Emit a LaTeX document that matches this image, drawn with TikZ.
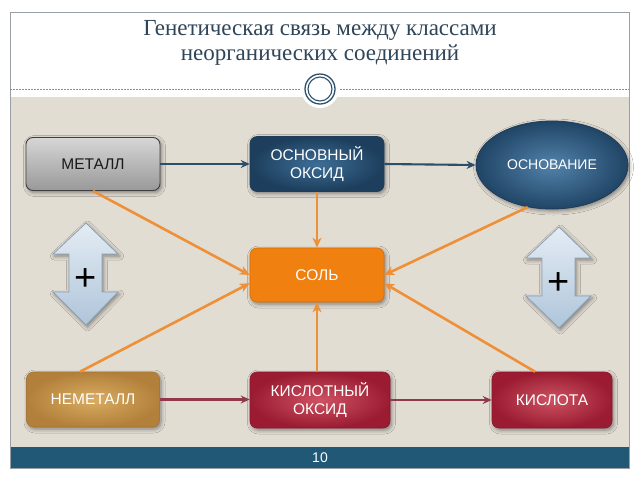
\documentclass[tikz,border=0pt]{standalone}
\usepackage{fontspec}
\setmainfont{Liberation Serif}
\newfontfamily\sansf{Liberation Sans}
\usetikzlibrary{arrows.meta,shadows.blur,shapes.geometric}
\definecolor{beige}{HTML}{E2DDD3}
\definecolor{barblue}{HTML}{215876}
\definecolor{framegrey}{HTML}{9A9FA3}
\definecolor{titlecol}{HTML}{2F4558}
\definecolor{ringblue}{HTML}{2E526E}
\definecolor{conblue}{HTML}{2B4E6A}
\definecolor{conred}{HTML}{8E3A4C}
\definecolor{conorange}{HTML}{EE9038}
\definecolor{arrowtop}{HTML}{E4ECF4}
\definecolor{arrowbot}{HTML}{AFC5DA}
\definecolor{arrowline}{HTML}{8CA2B8}
\definecolor{blueIn}{HTML}{3D6E96}
\definecolor{blueOut}{HTML}{1D3E5C}
\definecolor{blueDraw}{HTML}{1F3D57}
\definecolor{ellIn}{HTML}{5282AA}
\definecolor{ellOut}{HTML}{204566}
\definecolor{orangeFill}{HTML}{F08010}
\definecolor{orangeDraw}{HTML}{D76E0A}
\definecolor{goldIn}{HTML}{DAAC62}
\definecolor{goldOut}{HTML}{B2803A}
\definecolor{goldDraw}{HTML}{A57837}
\definecolor{redIn}{HTML}{CD5262}
\definecolor{redOut}{HTML}{9B1C32}
\definecolor{redDraw}{HTML}{8C192D}
\tikzset{
  shad/.style={blur shadow={shadow xshift=1.5pt,shadow yshift=-2pt,shadow blur radius=4pt,shadow opacity=45}},
  boxbase/.style={shad,rounded corners=7pt,align=center,text=white,
    font=\sansf\fontsize{15.5}{18}\selectfont,inner sep=2pt},
  greybox/.style={boxbase,draw=black!75,line width=0.9pt,text=black!90,
    top color=black!16,middle color=black!4,bottom color=black!40},
  bluebox/.style={boxbase,draw=blueDraw,line width=0.6pt,inner color=blueIn,outer color=blueOut},
  orangebox/.style={boxbase,fill=orangeFill,draw=orangeDraw,line width=0.6pt},
  goldbox/.style={boxbase,draw=goldDraw,line width=0.6pt,inner color=goldIn,outer color=goldOut},
  redbox/.style={boxbase,draw=redDraw,line width=0.6pt,inner color=redIn,outer color=redOut},
  ellbox/.style={shad,ellipse,draw=blueDraw,line width=0.8pt,text=white,
    font=\sansf\fontsize{14}{16}\selectfont,inner sep=0pt,inner color=ellIn,outer color=ellOut},
  blueline/.style={conblue,line width=2.1pt,-{Stealth[length=9pt,width=8pt,inset=3pt]}},
  redline/.style={conred,line width=2.1pt,-{Stealth[length=9pt,width=8pt,inset=3pt]}},
  orangeline/.style={conorange,line width=2.6pt,-{Stealth[length=10pt,width=9pt,inset=3pt]}},
  dblarrow/.style={draw=arrowline,line width=0.8pt,top color=arrowtop,bottom color=arrowbot,shad},
  plus/.style={font=\sansf\fontsize{38}{38}\selectfont,text=black}
}
\begin{document}
\begin{tikzpicture}[x=1pt,y=-1pt]
\useasboundingbox (0,0) rectangle (640,480);
\fill[white] (0,0) rectangle (640,480);
% slide frame
\fill[beige] (10,97) rectangle (629,447);
\fill[barblue] (10,447) rectangle (629,468);
\draw[framegrey,line width=0.8pt] (10,12) rectangle (629,468);
\draw[black!45,dash pattern=on 1.5pt off 1.5pt,line width=0.5pt] (10,89) -- (629,89);
\fill[white] (320,89) circle[radius=19pt];
\draw[ringblue,line width=1.3pt] (320,89) circle[radius=15pt];
\draw[ringblue,line width=1.1pt] (320,89) circle[radius=12pt];
% title
\node[titlecol,align=center,font=\fontsize{23}{25}\selectfont] (title) at (320,43)
  {Генетическая связь между классами\\неорганических соединений};
\node[white,font=\sansf\fontsize{14}{16}\selectfont] (pagenum) at (320,457.5) {10};
% double arrows
\path[dblarrow] (86,223) -- (118,254) -- (102,254) -- (102,292) -- (118,292) -- (86,325)
  -- (53,292) -- (69,292) -- (69,254) -- (53,254) -- cycle;
\path[dblarrow] (559,227) -- (591,258) -- (575,258) -- (575,296) -- (591,296) -- (559,328)
  -- (526,296) -- (542,296) -- (542,258) -- (526,258) -- cycle;
\node[plus] (plusL) at (86,280) {+};
\node[plus] (plusR) at (559,284) {+};
% nodes
\node[greybox,minimum width=134pt,minimum height=53pt] (metall) at (93,164) {МЕТАЛЛ};
\node[bluebox,minimum width=134pt,minimum height=55pt] (osnoks) at (317,164) {ОСНОВНЫЙ\\ОКСИД};
\node[ellbox,minimum width=152pt,minimum height=88pt] (osnov) at (552,165) {ОСНОВАНИЕ};
\node[orangebox,minimum width=134pt,minimum height=54pt] (sol) at (317,275) {СОЛЬ};
\node[goldbox,minimum width=133pt,minimum height=55pt] (nemet) at (93,399.5) {НЕМЕТАЛЛ};
\node[redbox,minimum width=140pt,minimum height=56pt] (kisoks) at (320,400) {КИСЛОТНЫЙ\\ОКСИД};
\node[redbox,minimum width=120pt,minimum height=56pt] (kislota) at (552,400) {КИСЛОТА};
% connectors
\draw[blueline] (metall.east) -- (osnoks.west);
\draw[blueline] (osnoks.east) -- (osnov.west);
\draw[redline] (nemet.east) -- (kisoks.west |- nemet.east);
\draw[redline] (kisoks.east |- kislota.west) -- (kislota.west);
\draw[orangeline] (osnoks.south) -- (sol.north);
\draw[orangeline] (sol.south |- kisoks.north) -- (sol.south);
\draw[orangeline] (metall.south) -- (sol.west);
\draw[orangeline] (osnov.240) -- (sol.east);
\draw[orangeline] (nemet.115) -- (sol.187);
\draw[orangeline] (kislota.121) -- (sol.353);
\end{tikzpicture}
\end{document}
